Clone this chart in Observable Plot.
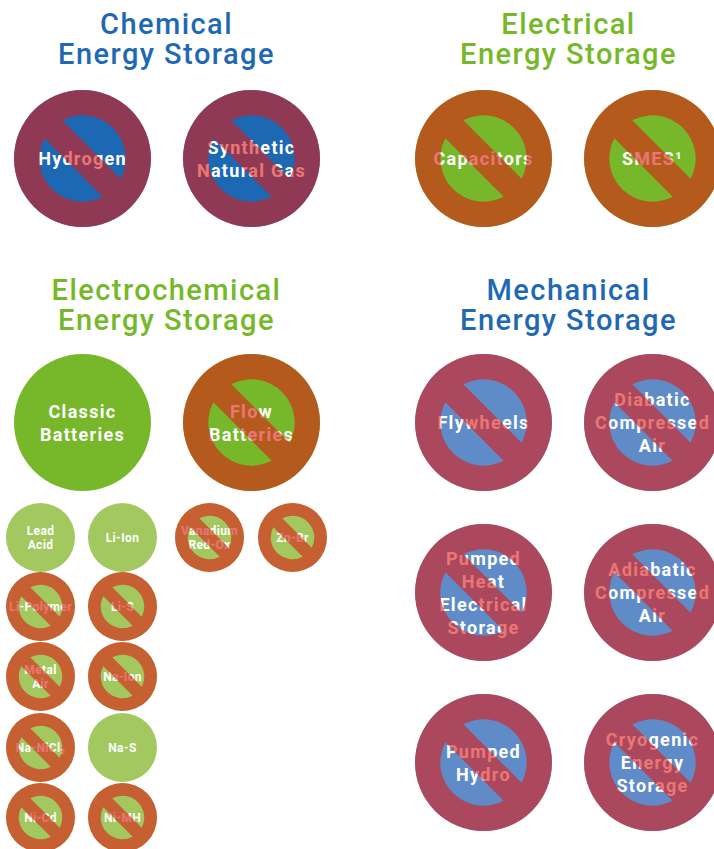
<!DOCTYPE html>
<html><head><meta charset="utf-8">
<script src="https://cdn.jsdelivr.net/npm/d3@7"></script>
<script src="https://cdn.jsdelivr.net/npm/@observablehq/plot@0.6"></script>
<style>html,body{margin:0;padding:0;background:#fff}svg{display:block}</style>
</head><body><div id="chart"></div>
<script>
const titles = ["Chemical\nEnergy Storage","Electrical\nEnergy Storage","Electrochemical\nEnergy Storage","Mechanical\nEnergy Storage"];
const titleColors = ["Heading blue","Electrical","Electrochemical","Heading blue"];
const titleCols = [3,8,3,8];
const titleRows = [0,0,2,2];

const labels = ["Hydrogen","Synthetic\nNatural Gas","Capacitors","SMES¹",
  "Classic\nBatteries","Flow\nBatteries",
  "Flywheels","Diabatic\nCompressed\nAir","Pumped\nHeat\nElectrical\nStorage","Adiabatic\nCompressed\nAir","Pumped\nHydro","Cryogenic\nEnergy\nStorage",
  "Lead\nAcid","Li-Ion","Vanadium\nRed-Ox","Zn-Br","Li-Polymer","Li-S","Metal\nAir","Na-Ion","Na-NiCl₂","Na-S","Ni-Cd","Ni-MH"];
const groups = ["Chemical","Chemical","Electrical","Electrical",
  "Electrochemical","Electrochemical",
  "Mechanical","Mechanical","Mechanical","Mechanical","Mechanical","Mechanical",
  "Batteries","Batteries","Batteries","Batteries","Batteries","Batteries","Batteries","Batteries","Batteries","Batteries","Batteries","Batteries"];
const cols = [1,5,7,9, 1,5, 7,9,7,9,7,9, 0,2,4,6,0,2,0,2,0,2,0,2];
const rows = [1,1,1,1, 3,3, 3,3,5,5,9,9, 4,4,4,4,6,6,7,7,8,8,10,10];
const levels = [2,2,2,2, 2,2, 2,2,2,2,2,2, 1,1,1,1,1,1,1,1,1,1,1,1];
const banned = [1,1,1,1, 0,1, 1,1,1,1,1,1, 0,0,1,1,1,1,1,1,1,0,1,1];

const groupNames = ["Chemical","Electrical","Electrochemical","Mechanical","Batteries","Heading blue"];
const groupColors = ["#1c68b3","#76b82a","#76b82a","#5f8cc8","#a2c85f","#1f69b4"];

// layout grid: column and row tracks of the diagram
const xTracks = [40,82,122,166,209,251,292,483,568,652];
const yTracks = [39,158,305,422,537,592,606,676,747,762,817];

const items = labels.map((label,i)=>({label,group:groups[i],x:xTracks[cols[i]],y:yTracks[rows[i]],level:levels[i],banned:banned[i]}));
const heads = titles.map((label,i)=>({label,group:titleColors[i],x:xTracks[titleCols[i]],y:yTracks[titleRows[i]]}));

// no-entry sign: ring plus diagonal bar, one path so the overlay has a single alpha
const noEntry = {draw(ctx,size){
  const r = Math.sqrt(size/Math.PI), ri = r*0.63, h = r*0.185, s = Math.SQRT1_2;
  const a = Math.sqrt(ri*ri-h*h);
  ctx.moveTo(r,0); ctx.arc(0,0,r,0,2*Math.PI,false); ctx.closePath();
  const seg = k=>{
    const p1=[k*(h*s-a*s), k*(-h*s-a*s)], p2=[k*(h*s+a*s), k*(-h*s+a*s)];
    ctx.moveTo(p1[0],p1[1]); ctx.lineTo(p2[0],p2[1]);
    ctx.arc(0,0,ri,Math.atan2(p2[1],p2[0]),Math.atan2(p1[1],p1[0]),true); ctx.closePath();
  };
  seg(1); seg(-1);
}};

const font = "Roboto, 'DejaVu Sans', sans-serif";
const chart = Plot.plot({
  width:714,height:849,margin:0,
  style:{background:"#fff"},
  x:{axis:null,type:"identity"},
  y:{axis:null,type:"identity"},
  r:{type:"linear",domain:[1,2],range:[34.5,68.5]},
  color:{domain:groupNames,range:groupColors},
  marks:[
    Plot.dot(items,{x:"x",y:"y",r:"level",fill:"group"}),
    Plot.text(items.filter(d=>d.level===2),{x:"x",y:"y",dy:-0.5,text:"label",fill:"white",fontSize:18,fontWeight:700,fontFamily:font,lineHeight:1.27}),
    Plot.text(items.filter(d=>d.level===1),{x:"x",y:"y",text:"label",fill:"white",fontSize:12,fontWeight:700,fontFamily:font,lineHeight:1.15}),
    Plot.dot(items.filter(d=>d.banned),{x:"x",y:"y",r:"level",symbol:noEntry,fill:"#dd1a16",fillOpacity:0.6,stroke:"none"}),
    Plot.text(heads,{x:"x",y:"y",text:"label",fill:"group",fontSize:29,fontWeight:500,fontFamily:font,lineHeight:1.03})
  ]
});
// letter spacing of the three text layers: big labels, small labels, headings
const spacing = ["1.3px","0.35px","1.45px"];
d3.select(chart).selectAll('g[aria-label="text"]').each(function(_,i){this.style.letterSpacing=spacing[i];});
document.getElementById("chart").appendChild(chart);
</script></body></html>
